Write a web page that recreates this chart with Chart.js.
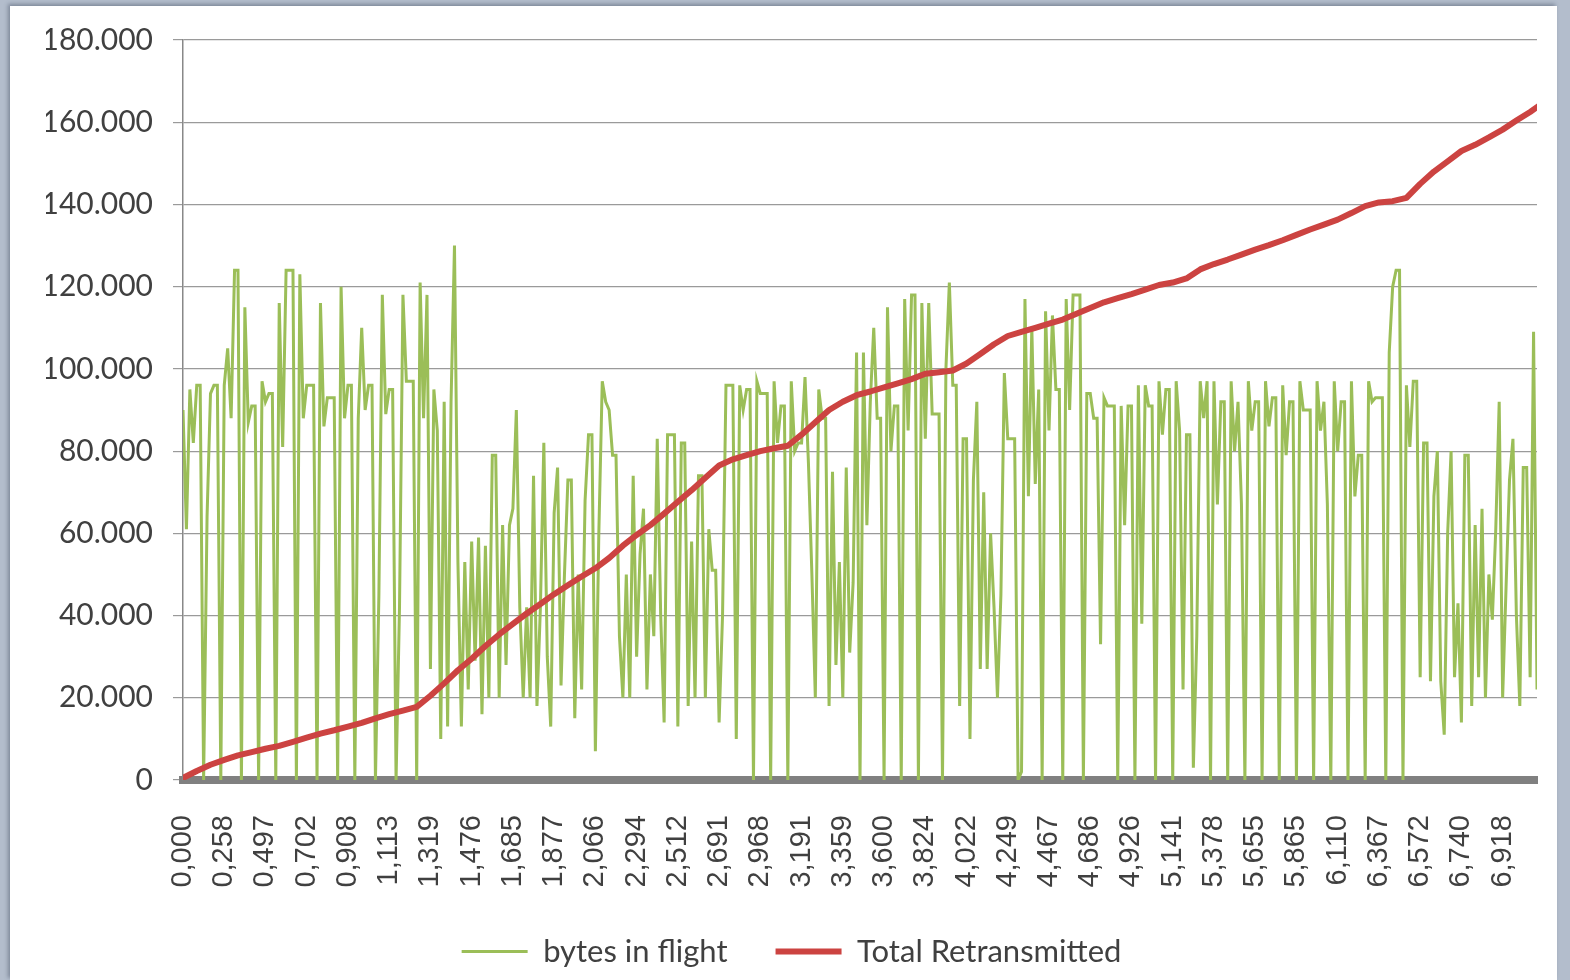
<!DOCTYPE html>
<html>
<head>
<meta charset="utf-8">
<script src="https://cdn.jsdelivr.net/npm/chart.js@4.4.1/dist/chart.umd.min.js"></script>
<style>
  html, body { margin: 0; padding: 0; width: 1570px; height: 980px; overflow: hidden; background: #b3bdcc; }
  #panel { position: absolute; left: 10px; top: 6px; width: 1547px; height: 974px; background: #ffffff;
           box-shadow: -2px -2px 4px rgba(60, 70, 90, 0.45); }
  #wrap { position: absolute; left: 0; top: 0; width: 1570px; height: 980px; }
</style>
</head>
<body>
<div id="panel"></div>
<div id="wrap"><canvas id="c" width="1570" height="980"></canvas></div>
<script>
// Tick labels of the category (time) axis, one every SAMPLES_PER_TICK samples
const xTickLabels = ["0,000","0,258","0,497","0,702","0,908","1,113","1,319","1,476","1,685","1,877",
  "2,066","2,294","2,512","2,691","2,968","3,191","3,359","3,600","3,824","4,022","4,249","4,467",
  "4,686","4,926","5,141","5,378","5,655","5,865","6,110","6,367","6,572","6,740","6,918"];
const SAMPLES_PER_TICK = 12;

// bytes in flight (in thousands of bytes), one value per sample
const bytesInFlight = [
  90,61,95,82,96,96,0,64,94,96,
  96,0,96,105,88,124,124,0,115,87,
  91,91,0,97,92,94,94,0,116,81,
  124,124,124,0,123,88,96,96,96,0,
  116,86,93,93,93,0,120,88,96,96,
  0,88,110,90,96,96,0,45,118,89,
  95,95,0,42,118,97,97,97,0,121,
  88,118,27,95,85,10,92,13,92,130,
  53,13,53,22,58,29,59,16,57,20,
  79,79,20,62,28,62,66,90,42,20,
  42,20,74,18,42,82,30,13,65,76,
  23,50,73,73,15,50,22,68,84,84,
  7,60,97,92,90,79,79,35,20,50,
  20,74,30,55,66,22,50,35,83,40,
  14,84,84,84,13,82,82,18,58,20,
  74,74,20,61,51,51,14,40,96,96,
  96,10,96,90,95,95,0,97,94,94,
  94,0,97,82,91,91,0,97,80,82,
  82,98,77,50,20,95,88,88,18,75,
  28,53,20,76,31,48,104,0,104,62,
  92,110,88,88,0,115,80,91,91,0,
  117,85,118,118,0,116,83,116,89,89,
  89,0,100,121,96,96,18,83,83,10,
  73,92,27,70,27,60,42,20,45,99,
  83,83,83,0,2,117,69,110,72,95,
  0,114,85,113,95,95,0,117,90,118,
  118,118,0,94,94,88,88,33,93,91,
  91,91,0,91,62,91,91,0,96,38,
  96,91,91,0,97,84,95,95,0,97,
  85,22,84,84,3,35,97,88,97,0,
  97,67,92,92,0,97,80,92,67,0,
  97,85,92,92,0,97,86,93,93,0,
  96,79,92,92,0,97,90,90,90,0,
  97,85,92,67,0,97,80,92,92,0,
  97,69,79,79,0,97,92,93,93,93,
  0,104,120,124,124,0,96,81,97,97,
  25,82,82,24,69,80,24,11,60,80,
  25,43,14,79,79,18,62,25,66,20,
  50,39,61,92,20,47,73,83,40,18,
  76,76,25,109,22
];

// Total Retransmitted (in thousands of bytes), one value every RETRANS_STRIDE samples
const RETRANS_STRIDE = 4;
const totalRetransmitted = [
  0.5, 2.2, 3.7, 4.9, 6.0, 6.8, 7.6, 8.3, 9.3, 10.3,
  11.3, 12.1, 13.0, 13.9, 15.0, 16.0, 16.9, 17.8, 20.5, 23.5,
  26.7, 29.5, 32.6, 35.4, 38.0, 40.5, 42.8, 45.2, 47.4, 49.5,
  51.5, 54.0, 57.0, 59.6, 62.0, 64.8, 67.7, 70.5, 73.5, 76.5,
  78.0, 79.0, 80.0, 80.7, 81.3, 84.0, 87.0, 90.0, 92.0, 93.6,
  94.5, 95.5, 96.5, 97.5, 98.8, 99.2, 99.6, 101.3, 103.6, 106.0,
  108.0, 109.0, 110.0, 111.0, 112.0, 113.4, 114.8, 116.2, 117.2, 118.2,
  119.3, 120.4, 121.0, 122.0, 124.2, 125.5, 126.6, 127.8, 129.0, 130.1,
  131.3, 132.6, 133.9, 135.1, 136.3, 137.9, 139.6, 140.5, 140.8, 141.6,
  145.0, 148.0, 150.5, 153.0, 154.5, 156.3, 158.2, 160.4, 162.5, 164.8
];

const seriesNames = ["bytes in flight", "Total Retransmitted"];
const yTickMax = 180;
const yTickStep = 20;

const GREEN = '#9bbe58';
const RED = '#cc4341';

function draw() {
  const ctx = document.getElementById('c').getContext('2d');
  new Chart(ctx, {
    type: 'line',
    data: {
      datasets: [
        {
          label: seriesNames[0],
          data: bytesInFlight.map((v, i) => ({ x: i, y: v })),
          borderColor: GREEN, backgroundColor: GREEN,
          borderWidth: 3, pointRadius: 0, tension: 0, order: 1
        },
        {
          label: seriesNames[1],
          data: totalRetransmitted.map((v, i) => ({ x: i * RETRANS_STRIDE, y: v })),
          borderColor: RED, backgroundColor: RED,
          borderWidth: 6, pointRadius: 0, tension: 0, order: 0,
          borderJoinStyle: 'round', borderCapStyle: 'round'
        }
      ]
    },
    options: {
      responsive: false,
      animation: false,
      layout: { padding: { left: 46, right: 33, top: 40, bottom: 3 } },
      plugins: {
        legend: {
          position: 'bottom',
          labels: {
            usePointStyle: true, pointStyle: 'line', pointStyleWidth: 66,
            padding: 48, color: '#404040',
            font: { family: 'Lato', size: 31 },
            sort: (a, b) => a.datasetIndex - b.datasetIndex
          }
        },
        tooltip: { enabled: false }
      },
      scales: {
        x: {
          type: 'linear',
          min: 0,
          max: bytesInFlight.length - 1,
          grid: { display: false },
          border: { display: true, color: '#808080', width: 8 },
          afterBuildTicks: (s) => { s.ticks = xTickLabels.map((_, i) => ({ value: i * SAMPLES_PER_TICK })); },
          afterFit: (s) => { s.height = 108; },
          ticks: {
            autoSkip: false, minRotation: 90, maxRotation: 90, padding: 27,
            color: '#404040', font: { family: 'Liberation Sans', size: 29 },
            callback: (v, i) => xTickLabels[i]
          }
        },
        y: {
          min: 0, max: yTickMax,
          grid: { color: '#9a9a9a', lineWidth: 1.2, tickLength: 10, drawTicks: true },
          border: { display: true, color: '#888888', width: 1.5 },
          afterFit: (s) => { s.width = 137; },
          ticks: {
            stepSize: yTickStep, padding: 20, color: '#404040',
            font: { family: 'Lato', size: 30 },
            callback: (v) => v === 0 ? '0' : v + '.000'
          }
        }
      }
    }
  });
}

if (document.fonts && document.fonts.load) {
  Promise.all([
    document.fonts.load('30px Lato'),
    document.fonts.load('29px "Liberation Sans"')
  ]).then(draw, draw);
} else {
  draw();
}
</script>
</body>
</html>
